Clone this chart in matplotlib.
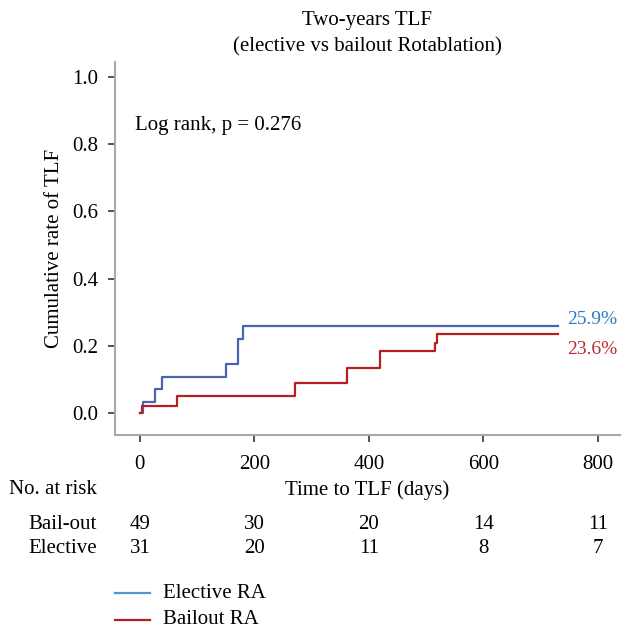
import numpy as np
import matplotlib.pyplot as plt

# Kaplan-Meier steps (days, cumulative rate)
elective_t = [0, 5, 27, 39, 150, 172, 180, 730]
elective_y = [0, 0.033, 0.070, 0.107, 0.144, 0.219, 0.259, 0.259]
bailout_t = [0, 4, 64, 270, 361, 419, 515, 518, 730]
bailout_y = [0, 0.020, 0.050, 0.090, 0.134, 0.184, 0.207, 0.236, 0.236]

risk_times = [0, 200, 400, 600, 800]
risk_bailout = [49, 30, 20, 14, 11]
risk_elective = [31, 20, 11, 8, 7]

plt.rcParams['font.family'] = ['Liberation Serif', 'DejaVu Serif']
fs = 15

fig = plt.figure(figsize=(6.21, 6.29), dpi=100)
ax = fig.add_axes([0.185, 0.309, 0.813, 0.592])

ax.step(elective_t, elective_y, where='post', color='#4a64b0', lw=1.6)
ax.step(bailout_t, bailout_y, where='post', color='#b51f24', lw=1.6)

ax.set_xlim(-43.7, 838)
ax.set_ylim(-0.0654, 1.045)
ax.set_xticks(risk_times)
ax.set_yticks([0, 0.2, 0.4, 0.6, 0.8, 1.0])
ax.set_yticklabels(['0.0', '0.2', '0.4', '0.6', '0.8', '1.0'])
ax.tick_params(labelsize=fs, length=5, width=1.2, color='#333333', pad=7)
ax.tick_params(axis='x', pad=10)
for s in ['top', 'right']:
    ax.spines[s].set_visible(False)
for s in ['left', 'bottom']:
    ax.spines[s].set_color('#aaaaaa')
    ax.spines[s].set_linewidth(1.5)

ax.set_ylabel('Cumulative rate of TLF', fontsize=fs, labelpad=6)
ax.set_title('Two-years TLF\n(elective vs bailout Rotablation)', fontsize=fs, pad=8,
             linespacing=1.45)
ax.text(-9, 0.856, 'Log rank, p = 0.276', fontsize=fs, va='center', ha='left')

ax.text(746, elective_y[-1] + 0.018, '25.9%', color='#2e7bc4', fontsize=14, va='center')
ax.text(746, bailout_y[-1] - 0.049, '23.6%', color='#c0272d', fontsize=14, va='center')

# risk table below the axes
tr = ax.get_xaxis_transform()
ax.text(0.5, -0.148, 'Time to TLF (days)', transform=ax.transAxes, ha='center',
        va='center', fontsize=fs)
ax.text(-75, -0.148, 'No. at risk', transform=tr, ha='right', va='center', fontsize=fs)
ax.text(-75, -0.24, 'Bail-out', transform=tr, ha='right', va='center', fontsize=fs)
ax.text(-75, -0.305, 'Elective', transform=tr, ha='right', va='center', fontsize=fs)
for t, a, b in zip(risk_times, risk_bailout, risk_elective):
    ax.text(t, -0.24, str(a), transform=tr, ha='center', va='center', fontsize=fs)
    ax.text(t, -0.305, str(b), transform=tr, ha='center', va='center', fontsize=fs)

# legend drawn manually
fig.lines.append(plt.Line2D([115 / 621, 150 / 621], [1 - 593 / 629] * 2,
                            transform=fig.transFigure, color='#4f96d6', lw=1.6))
fig.lines.append(plt.Line2D([115 / 621, 150 / 621], [1 - 620 / 629] * 2,
                            transform=fig.transFigure, color='#b51f24', lw=1.6))
fig.text(163 / 621, 1 - 593 / 629, 'Elective RA', fontsize=fs, va='center')
fig.text(163 / 621, 1 - 620 / 629, 'Bailout RA', fontsize=fs, va='center')

fig.savefig('out.png', dpi=100)
